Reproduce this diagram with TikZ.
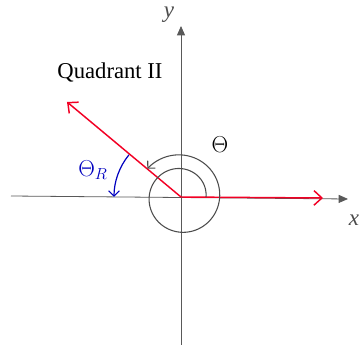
\documentclass[tikz,border=0pt]{standalone}
\usepackage{fontspec}
\setmainfont{Liberation Serif}
\usetikzlibrary{arrows.meta}

\begin{document}
\begin{tikzpicture}[
    x=0.75pt, y=0.75pt,
    every node/.style={font=\large},
    axis/.style={draw=black!65, line width=0.6pt, -{Triangle[length=7pt,width=6pt]}},
    vec/.style={draw=red!85!magenta!95!black, line width=1.1pt, -{Straight Barb[length=6pt,width=11pt]}},
    pencil/.style={draw=black!70, line width=0.8pt, -{Straight Barb[length=4pt,width=8pt]}},
    angR/.style={draw=blue!75!black, line width=0.9pt, -{Straight Barb[length=4pt,width=8pt]}},
]
\useasboundingbox (-181,-148) rectangle (182,197);
% === Axes ===
\coordinate (O) at (0,0);
\coordinate (xl) at (-170,1);
\coordinate (xr) at (167,-2);
\coordinate (yb) at (0,-150);
\coordinate (yt) at (0,171);
\draw[axis] (xl) -- (xr);
\draw[axis] (yb) -- (yt);
\node[text=black!70, font=\LARGE\itshape] (ylab) at (-12,182) {y};
\node[text=black!70, font=\LARGE\itshape] (xlab) at (173,-23) {x};
% Title
\node[font=\fontsize{17}{20}\selectfont] (title) at (-71,125) {Quadrant II};
% === Vectors ===
\coordinate (tipII) at (-114,95);
\coordinate (tipI) at (142,-1);
\draw[vec] (O) -- (tipII);
\draw[vec] (O) -- (tipI);
% === Angle theta (spiral) ===
\draw[pencil] plot[domain=0:500, samples=120, smooth]
    ({(25+19*\x/500)*cos(\x)}, {(25+19*\x/500)*sin(\x)});
\node[font=\LARGE] (th) at (39,52) {$\Theta$};
% === Reference angle ===
\draw[angR] (O) ++(141:67) arc (141:180:67);
\node[text=blue!75!black, font=\LARGE] (thR) at (-88,27) {$\Theta_R$};
\end{tikzpicture}
\end{document}
